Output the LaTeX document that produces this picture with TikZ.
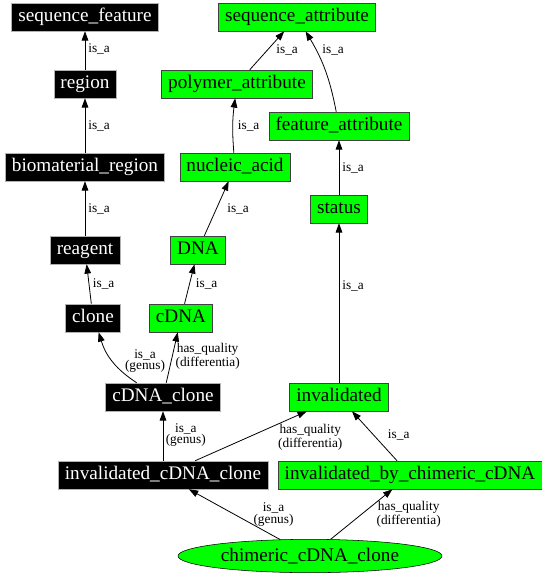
\documentclass[tikz,border=0pt]{standalone}
\usepackage{fontspec}
\setmainfont{Liberation Serif}
\usetikzlibrary{arrows.meta,shapes.geometric}
\definecolor{termgreen}{HTML}{00FF00}

\tikzset{
 term/.style={draw=gray!60,fill=black,text=white,font=\fontsize{14.4}{16}\selectfont,
   minimum height=21pt,inner xsep=5pt,inner ysep=0pt,text height=10pt,text depth=3pt},
 attr/.style={term,draw=black!75,fill=termgreen,text=black},
 isa/.style={-{Triangle[length=7pt,width=5pt]},line width=.6pt},
 lbl/.style={font=\fontsize{10}{8.5}\selectfont,align=center,inner sep=0pt,anchor=west}
}

\begin{document}
\begin{tikzpicture}[x=.75pt,y=-.75pt]
 \useasboundingbox (0,0) rectangle (542,576);
 % ontology terms
 \node[term] (seqfeat) at (85,17) {sequence\_feature};
 \node[term] (region) at (85,84) {region};
 \node[term] (biomat) at (85,167) {biomaterial\_region};
 \node[term] (reagent) at (85,250) {reagent};
 \node[term] (clone) at (93,318) {clone};
 \node[term] (cdnaclone) at (163,397) {cDNA\_clone};
 \node[term] (invcdnaclone) at (163,475) {invalidated\_cDNA\_clone};
 % attributes
 \node[attr] (seqattr) at (297,17) {sequence\_attribute};
 \node[attr] (polyattr) at (237,84) {polymer\_attribute};
 \node[attr] (featattr) at (339,126) {feature\_attribute};
 \node[attr] (nucacid) at (235,167) {nucleic\_acid};
 \node[attr] (dna) at (198,250) {DNA};
 \node[attr] (cdna) at (181,318) {cDNA};
 \node[attr] (status) at (339,209) {status};
 \node[attr] (invalid) at (339,397) {invalidated};
 \node[attr] (invchim) at (410,475) {invalidated\_by\_chimeric\_cDNA};
 \node[ellipse,draw=black,fill=termgreen,font=\fontsize{14.4}{16}\selectfont,
   minimum width=198pt,minimum height=25pt,inner sep=0pt] (chimclone) at (310,556) {chimeric\_cDNA\_clone};
 % is_a / has_quality links
 \draw[isa] (region) -- node[lbl,pos=.54,xshift=2.2pt]{is\_a} (seqfeat);
 \draw[isa] (biomat) -- node[lbl,pos=.49,xshift=2.2pt]{is\_a} (region);
 \draw[isa] (reagent) -- node[lbl,pos=.49,xshift=2.2pt]{is\_a} (biomat);
 \draw[isa] (clone) -- node[lbl,pos=.5,xshift=2.6pt]{is\_a} (reagent);
 \draw[isa] (cdna) -- node[lbl,pos=.5,xshift=4.5pt]{is\_a} (dna);
 \draw[isa] (dna) -- node[lbl,pos=.49,xshift=8pt]{is\_a} (nucacid);
 \draw[isa] (nucacid) to[bend left=6] node[lbl,pos=.5,xshift=3.5pt]{is\_a} (polyattr);
 \draw[isa] (polyattr) -- node[lbl,pos=.51,xshift=6.5pt]{is\_a} (seqattr);
 \draw[isa] (featattr) to[bend right=10] node[lbl,pos=.77,xshift=4.5pt]{is\_a} (seqattr);
 \draw[isa] (status) -- node[lbl,pos=.49,xshift=2.2pt]{is\_a} (featattr);
 \draw[isa] (invalid) -- node[lbl,pos=.61,xshift=2.2pt]{is\_a} (status);
 \draw[isa] (cdnaclone) to[bend left=20] node[lbl,pos=.5,xshift=9pt]{is\_a\\(genus)} (clone);
 \draw[isa] (cdnaclone) -- node[lbl,pos=.52,xshift=2.2pt]{has\_quality\\(differentia)} (cdna);
 \draw[isa] (invcdnaclone) -- node[lbl,pos=.52,xshift=1.8pt]{is\_a\\(genus)} (cdnaclone);
 \draw[isa] (invcdnaclone) -- node[lbl,pos=.74,anchor=north west]{has\_quality\\(differentia)} (invalid);
 \draw[isa] (invchim) -- node[lbl,pos=.52,xshift=10.5pt]{is\_a} (invalid);
 \draw[isa] (chimclone) -- node[lbl,pos=.5,xshift=14pt]{is\_a\\(genus)} (invcdnaclone);
 \draw[isa] (chimclone) -- node[lbl,pos=.5,xshift=11pt]{has\_quality\\(differentia)} (invchim);
\end{tikzpicture}
\end{document}
